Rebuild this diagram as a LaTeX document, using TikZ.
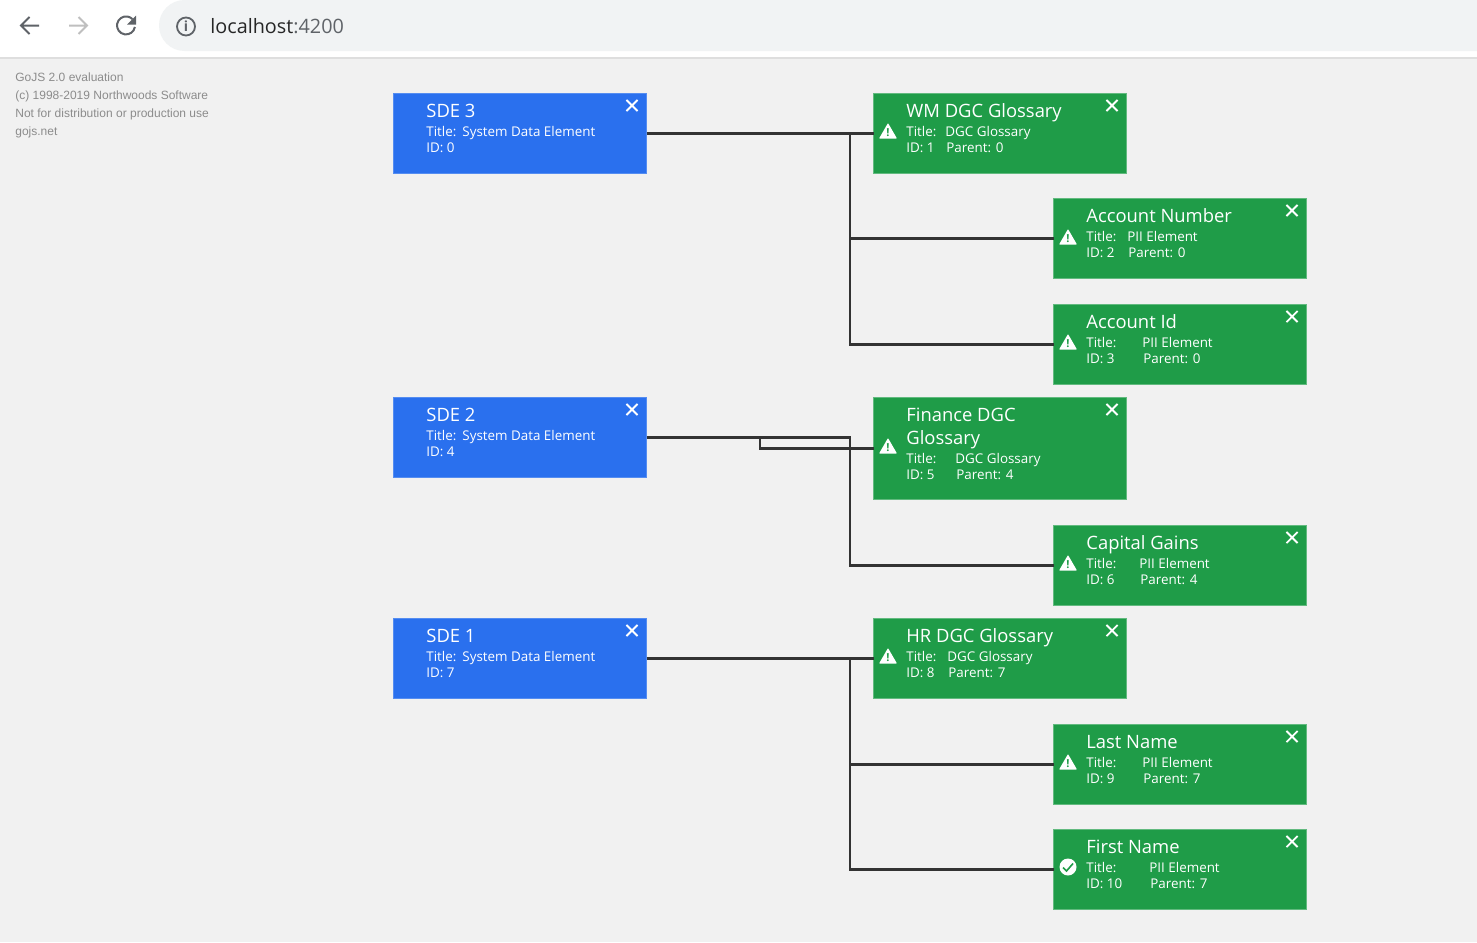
\documentclass[tikz,border=0pt]{standalone}
\usepackage{fontspec}
\setmainfont{Open Sans}
\newfontfamily\gojsfont{Liberation Sans}
\usetikzlibrary{positioning, arrows.meta, shapes.geometric, shapes.misc}

\definecolor{canvasgray}{HTML}{F1F1F1}
\definecolor{pillgray}{HTML}{F1F3F4}
\definecolor{sdeblue}{HTML}{2A70EE}
\definecolor{dgcgreen}{HTML}{1F9C48}
\definecolor{linkdark}{HTML}{333333}
\definecolor{chromedark}{HTML}{5F6368}

\tikzset{
  bluecard/.style={draw=sdeblue!80!white, fill=sdeblue, line width=0.5pt, rectangle, anchor=north west, outer sep=0pt, minimum width=126.5pt, minimum height=40pt, inner sep=0pt},
  greencard/.style={bluecard, draw=dgcgreen!70!white, fill=dgcgreen},
  cardtitle/.style={anchor=north west, inner sep=0pt, text=white, align=left, font=\fontsize{9.2}{11.5}\selectfont, text depth=2.6pt},
  carddetail/.style={anchor=north west, inner sep=0pt, text=white, font=\fontsize{6.7}{8}\selectfont, text height=5.4pt, text depth=1.4pt},
  closemark/.style={cross out, draw=white, line width=0.9pt, minimum size=4.7pt, inner sep=0pt},
  warnmark/.style={regular polygon, regular polygon sides=3, fill=white, rounded corners=0.4pt, minimum size=10.4pt, inner sep=0pt},
  okmark/.style={circle, fill=white, minimum size=8.5pt, inner sep=0pt},
  link/.style={draw=linkdark, line width=1.15pt},
  stamp/.style={anchor=base west, inner sep=0pt, text=black!45, font=\gojsfont\fontsize{6}{7}\selectfont},
}

% name, card style, left, top, title, value, value offset, id line, parent line
\newcommand{\carditem}[9]{
  \node [#2] (#1) at (#3,#4) {};
  \node [cardtitle] (#1title) at (#3+32.5,#4+9.6) {\rule{0pt}{7.2pt}#5};
  \node [carddetail, below=1.1pt of #1title.south west, anchor=north west] (#1label) {Title:};
  \node [carddetail, below=1.1pt of #1title.south west, anchor=north west, xshift=#7*0.5pt] (#1value) {#6};
  \node [carddetail, below=0.8pt of #1label.south west, anchor=north west] (#1id) {#8};
  \node [carddetail, below=0.8pt of #1label.south west, anchor=north west, xshift=#7*0.5pt+0.5pt] (#1parent) {#9};
  \node [closemark] (#1close) at (#3+238.5,#4+12) {};
}
\newcommand{\warnitem}[3]{
  \node [warnmark] (#1warn) at (#2,#3+2.4) {};
  \node [inner sep=0pt, text=dgcgreen, font=\bfseries\fontsize{5.5}{6}\selectfont] (#1bang) at (#2,#3+1.6) {!};
}

\begin{document}
\begin{tikzpicture}[x=0.5pt, y=-0.5pt]
  \useasboundingbox (0,0) rectangle (1477,942);
  \fill [canvasgray] (0,0) rectangle (1477,942);

  % browser bar
  \fill [white] (0,0) rectangle (1477,57);
  \fill [black!13] (0,57) rectangle (1477,58.5);
  \fill [pillgray] (1477,0) -- (184.5,0) arc [start angle=270, end angle=90, radius=25.5] -- (1477,51) -- cycle;
  \draw [chromedark, line width=1pt] (39,25.5) -- (21,25.5) (29.5,17) -- (21,25.5) -- (29.5,34);
  \draw [black!25, line width=1pt] (69,25.5) -- (87,25.5) (78.5,17) -- (87,25.5) -- (78.5,34);
  \draw [chromedark, line width=1pt] (134.9,27) arc [start angle=10, end angle=315, radius=9];
  \fill [chromedark] (136,15.5) -- (136,24.5) -- (127,24.5) -- cycle;
  \draw [chromedark, line width=0.9pt] (186,26.5) circle [radius=9];
  \node [inner sep=0pt, text=chromedark, font=\bfseries\fontsize{7}{8}\selectfont] (infomark) at (186,26.5) {i};
  \node [anchor=base west, inner sep=0pt, font=\fontsize{9.9}{12}\selectfont] (address) at (210,33) {\textcolor{black!85}{localhost}\textcolor{chromedark}{:4200}};

  % evaluation stamp
  \node [stamp] (stamp1) at (15,81) {GoJS 2.0 evaluation};
  \node [stamp] (stamp2) at (15,99) {(c) 1998-2019 Northwoods Software};
  \node [stamp] (stamp3) at (15,117) {Not for distribution or production use};
  \node [stamp] (stamp4) at (15,135) {gojs.net};

  % links go under the cards
  \coordinate (bus3) at (850,133.5);
  \coordinate (bus2) at (850,437.5);
  \coordinate (bend2) at (760,437.5);
  \coordinate (bus1) at (850,658.5);

  \carditem{sde3}{bluecard}{393.5}{93.5}{SDE 3}{System Data Element}{36}{ID: 0}{}
  \carditem{wm}{greencard}{873.5}{93.5}{WM DGC Glossary}{DGC Glossary}{39}{ID: 1}{Parent: 0}
  \carditem{accnum}{greencard}{1053.5}{198.5}{Account Number}{PII Element}{41}{ID: 2}{Parent: 0}
  \carditem{accid}{greencard}{1053.5}{304.5}{Account Id}{PII Element}{56}{ID: 3}{Parent: 0}
  \carditem{sde2}{bluecard}{393.5}{397.5}{SDE 2}{System Data Element}{36}{ID: 4}{}
  \carditem{finance}{greencard, minimum height=51pt}{873.5}{397.5}{Finance DGC\\Glossary}{DGC Glossary}{49}{ID: 5}{Parent: 4}
  \carditem{capital}{greencard}{1053.5}{525.5}{Capital Gains}{PII Element}{53}{ID: 6}{Parent: 4}
  \carditem{sde1}{bluecard}{393.5}{618.5}{SDE 1}{System Data Element}{36}{ID: 7}{}
  \carditem{hr}{greencard}{873.5}{618.5}{HR DGC Glossary}{DGC Glossary}{41}{ID: 8}{Parent: 7}
  \carditem{lastn}{greencard}{1053.5}{724.5}{Last Name}{PII Element}{56}{ID: 9}{Parent: 7}
  \carditem{firstn}{greencard}{1053.5}{829.5}{First Name}{PII Element}{63}{ID: 10}{Parent: 7}

  \draw [link] (sde3) -- (wm);
  \draw [link] (bus3) |- (accnum);
  \draw [link] (bus3) |- (accid);
  \draw [link] (sde2.east |- bus2) -- (bus2) |- (capital);
  \draw [link] (bend2) |- (finance);
  \draw [link] (sde1) -- (hr);
  \draw [link] (bus1) |- (lastn);
  \draw [link] (bus1) |- (firstn);

  \warnitem{wm}{888}{131}
  \warnitem{accnum}{1068}{237}
  \warnitem{accid}{1068}{342}
  \warnitem{finance}{888}{446}
  \warnitem{capital}{1068}{563}
  \warnitem{hr}{888}{656}
  \warnitem{lastn}{1068}{762}
  \node [okmark] (firstnok) at (1068,867) {};
  \draw [dgcgreen, line width=0.8pt] (1063,867.5) -- (1066.5,871) -- (1073,863.5);
\end{tikzpicture}
\end{document}
